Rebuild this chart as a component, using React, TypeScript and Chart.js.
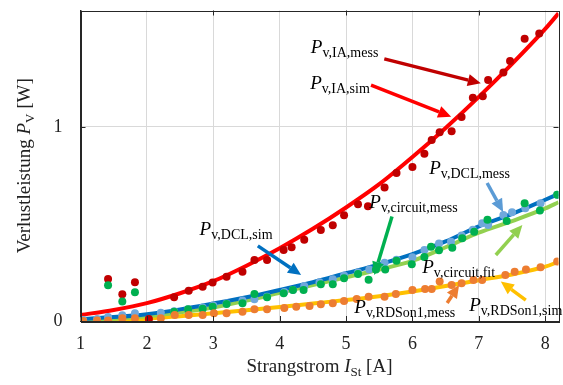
import { useEffect, useRef } from "react";
import { Chart, registerables } from "chart.js";

Chart.register(...registerables);

const X_MIN = 1;
const X_MAX = 8.2;
const Y_MIN = 0;
const Y_MAX = 1.6;
const xTickStep = 1;
const yTickStep = 1;

// P_v,IA,mess (dark red dots)
const iaMessX = [1.415, 1.63, 1.82, 2.03, 2.41, 2.63, 2.84, 2.99, 3.2, 3.44, 3.62, 3.81, 4.06, 4.18, 4.37, 4.62, 4.8, 4.97, 5.18, 5.33, 5.58, 5.76, 6.0, 6.18, 6.29, 6.41, 6.59, 6.74, 6.91, 7.06, 7.14, 7.37, 7.47, 7.69, 7.91];
const iaMessY = [0.216, 0.138, 0.2, 0.01, 0.122, 0.156, 0.177, 0.199, 0.228, 0.254, 0.314, 0.314, 0.366, 0.38, 0.419, 0.469, 0.493, 0.545, 0.602, 0.591, 0.688, 0.763, 0.793, 0.862, 0.933, 0.973, 0.978, 1.051, 1.151, 1.158, 1.242, 1.28, 1.34, 1.455, 1.481];

// P_v,circuit,mess (green dots)
const circuitMessX = [1.415, 1.63, 1.82, 2.41, 2.62, 2.84, 2.99, 3.2, 3.44, 3.62, 3.81, 4.06, 4.2, 4.36, 4.62, 4.8, 4.97, 5.18, 5.34, 5.45, 5.59, 5.76, 5.99, 6.18, 6.28, 6.4, 6.6, 6.75, 6.93, 7.13, 7.42, 7.69, 7.92, 8.18];
const circuitMessY = [0.184, 0.1, 0.148, 0.048, 0.06, 0.063, 0.074, 0.088, 0.091, 0.139, 0.122, 0.143, 0.16, 0.16, 0.19, 0.19, 0.22, 0.242, 0.213, 0.266, 0.266, 0.31, 0.292, 0.33, 0.383, 0.364, 0.378, 0.426, 0.46, 0.522, 0.515, 0.607, 0.569, 0.65];

// P_v,DCL,mess (light blue dots)
const dclMessX = [1.04, 1.25, 1.415, 1.63, 1.82, 2.21, 2.41, 2.62, 2.84, 3.0, 3.2, 3.44, 3.62, 3.81, 4.07, 4.2, 4.37, 4.6, 4.8, 4.97, 5.18, 5.35, 5.58, 5.76, 6.0, 6.18, 6.4, 6.58, 6.74, 6.91, 7.05, 7.14, 7.37, 7.5, 7.7, 7.93, 8.18];
const dclMessY = [0.005, 0.01, 0.02, 0.03, 0.04, 0.043, 0.05, 0.06, 0.07, 0.08, 0.09, 0.105, 0.112, 0.125, 0.15, 0.16, 0.18, 0.2, 0.215, 0.235, 0.25, 0.266, 0.3, 0.315, 0.328, 0.366, 0.4, 0.409, 0.44, 0.47, 0.504, 0.495, 0.546, 0.56, 0.581, 0.607, 0.65];

// P_v,RDSon1,mess (orange dots)
const rdsMessX = [1.04, 1.25, 1.415, 1.63, 1.82, 2.21, 2.42, 2.63, 2.84, 3.01, 3.2, 3.44, 3.62, 3.81, 4.07, 4.25, 4.45, 4.62, 4.8, 4.97, 5.16, 5.34, 5.58, 5.75, 6.0, 6.19, 6.29, 6.41, 6.59, 6.74, 6.92, 7.05, 7.4, 7.54, 7.71, 7.93, 8.18];
const rdsMessY = [0.0, 0.003, 0.003, 0.014, 0.014, 0.014, 0.031, 0.031, 0.031, 0.04, 0.04, 0.048, 0.06, 0.06, 0.067, 0.074, 0.077, 0.086, 0.091, 0.103, 0.113, 0.125, 0.125, 0.139, 0.16, 0.165, 0.165, 0.203, 0.186, 0.194, 0.211, 0.211, 0.237, 0.254, 0.266, 0.277, 0.306];

// simulated / fitted curves
const simX = [1, 1.5, 2, 2.5, 3, 3.5, 4, 4.5, 5, 5.5, 6, 6.5, 7, 7.5, 8, 8.2];
const iaSimY = [0.031, 0.057, 0.092, 0.143, 0.205, 0.285, 0.375, 0.475, 0.585, 0.705, 0.845, 0.995, 1.155, 1.325, 1.505, 1.585];
const dclSimY = [0.01, 0.02, 0.035, 0.06, 0.09, 0.122, 0.16, 0.2, 0.246, 0.292, 0.345, 0.41, 0.488, 0.552, 0.625, 0.655];
const circuitFitY = [0.005, 0.012, 0.025, 0.045, 0.07, 0.105, 0.145, 0.185, 0.225, 0.265, 0.31, 0.38, 0.455, 0.515, 0.58, 0.612];
const rdsSimY = [0.0, 0.005, 0.012, 0.025, 0.04, 0.055, 0.072, 0.09, 0.108, 0.128, 0.152, 0.18, 0.21, 0.24, 0.28, 0.305];

const SERIF = "'Liberation Serif', 'Times New Roman', serif";

type Annot = {
  sub: string;
  tx: number;
  ty: number;
  ax1: number; ay1: number; ax2: number; ay2: number;
  color: string;
};

const annotations: Annot[] = [
  { sub: "v,IA,mess", tx: 4.47, ty: 1.381, ax1: 5.576, ay1: 1.351, ax2: 7.03, ay2: 1.225, color: "#C00000" },
  { sub: "v,IA,sim", tx: 4.459, ty: 1.196, ax1: 5.376, ay1: 1.216, ax2: 6.583, ay2: 1.053, color: "#FF0000" },
  { sub: "v,DCL,mess", tx: 6.253, ty: 0.758, ax1: 7.125, ay1: 0.711, ax2: 7.366, ay2: 0.562, color: "#5B9BD5" },
  { sub: "v,DCL,sim", tx: 2.794, ty: 0.443, ax1: 3.671, ay1: 0.387, ax2: 4.323, ay2: 0.237, color: "#0070C0" },
  { sub: "v,circuit,mess", tx: 5.35, ty: 0.582, ax1: 5.692, ay1: 0.538, ax2: 5.426, ay2: 0.237, color: "#00B050" },
  { sub: "v,circuit,fit", tx: 6.147, ty: 0.247, ax1: 7.256, ay1: 0.34, ax2: 7.656, ay2: 0.495, color: "#92D050" },
  { sub: "v,RDSon1,mess", tx: 5.125, ty: 0.041, ax1: 6.523, ay1: 0.093, ax2: 6.703, ay2: 0.186, color: "#ED7D31" },
  { sub: "v,RDSon1,sim", tx: 6.854, ty: 0.052, ax1: 7.707, ay1: 0.108, ax2: 7.331, ay2: 0.203, color: "#FFC000" },
];

function drawArrow(ctx: CanvasRenderingContext2D, x1: number, y1: number, x2: number, y2: number, color: string) {
  const ang = Math.atan2(y2 - y1, x2 - x1);
  const headLen = 13;
  const headW = 6;
  const bx = x2 - headLen * Math.cos(ang);
  const by = y2 - headLen * Math.sin(ang);
  ctx.save();
  ctx.strokeStyle = color;
  ctx.fillStyle = color;
  ctx.lineWidth = 3.5;
  ctx.beginPath();
  ctx.moveTo(x1, y1);
  ctx.lineTo(bx, by);
  ctx.stroke();
  ctx.beginPath();
  ctx.moveTo(x2, y2);
  ctx.lineTo(bx + headW * Math.sin(ang), by - headW * Math.cos(ang));
  ctx.lineTo(bx - headW * Math.sin(ang), by + headW * Math.cos(ang));
  ctx.closePath();
  ctx.fill();
  ctx.restore();
}

type Part = { t: string; font: string; dy: number };

function drawParts(ctx: CanvasRenderingContext2D, parts: Part[], x: number, y: number, align: "left" | "center") {
  let total = 0;
  for (const p of parts) {
    ctx.font = p.font;
    total += ctx.measureText(p.t).width;
  }
  let cx = align === "center" ? x - total / 2 : x;
  ctx.textAlign = "left";
  ctx.textBaseline = "alphabetic";
  for (const p of parts) {
    ctx.font = p.font;
    ctx.fillText(p.t, cx, y + p.dy);
    cx += ctx.measureText(p.t).width;
  }
}

const overlayPlugin = {
  id: "overlay",
  afterDatasetsDraw(chart: any) {
    const ctx: CanvasRenderingContext2D = chart.ctx;
    const xs = chart.scales.x;
    const ys = chart.scales.y;
    const area = chart.chartArea;
    ctx.save();
    ctx.strokeStyle = "#262626";
    ctx.lineWidth = 1;
    ctx.strokeRect(Math.round(area.left) + 0.5, Math.round(area.top) + 0.5, Math.round(area.right - area.left), Math.round(area.bottom - area.top));
    ctx.beginPath();
    for (let v = X_MIN; v <= 8; v += xTickStep) {
      const px = Math.round(xs.getPixelForValue(v)) + 0.5;
      ctx.moveTo(px, area.bottom);
      ctx.lineTo(px, area.bottom - 5);
      if (v % 2 === 1) {
        ctx.moveTo(px, area.top);
        ctx.lineTo(px, area.top + 5);
      }
    }
    const py1 = Math.round(ys.getPixelForValue(1)) + 0.5;
    ctx.moveTo(area.left, py1);
    ctx.lineTo(area.left + 5, py1);
    ctx.moveTo(area.right, py1);
    ctx.lineTo(area.right - 5, py1);
    ctx.stroke();

    ctx.fillStyle = "#000";
    for (const a of annotations) {
      const tx = xs.getPixelForValue(a.tx);
      const ty = ys.getPixelForValue(a.ty);
      drawParts(ctx, [
        { t: "P", font: `italic 19px ${SERIF}`, dy: 0 },
        { t: a.sub, font: `14px ${SERIF}`, dy: 4 },
      ], tx, ty, "left");
      drawArrow(ctx, xs.getPixelForValue(a.ax1), ys.getPixelForValue(a.ay1), xs.getPixelForValue(a.ax2), ys.getPixelForValue(a.ay2), a.color);
    }

    ctx.fillStyle = "#222";
    const cxm = (area.left + area.right) / 2;
    drawParts(ctx, [
      { t: "Strangstrom ", font: `19px ${SERIF}`, dy: 0 },
      { t: "I", font: `italic 19px ${SERIF}`, dy: 0 },
      { t: "St", font: `13px ${SERIF}`, dy: 4 },
      { t: " [A]", font: `19px ${SERIF}`, dy: 0 },
    ], cxm, 372, "center");

    ctx.save();
    ctx.translate(30, (area.top + area.bottom) / 2);
    ctx.rotate(-Math.PI / 2);
    drawParts(ctx, [
      { t: "Verlustleistung ", font: `19px ${SERIF}`, dy: 0 },
      { t: "P", font: `italic 19px ${SERIF}`, dy: 0 },
      { t: "V", font: `13px ${SERIF}`, dy: 4 },
      { t: " [W]", font: `19px ${SERIF}`, dy: 0 },
    ], 0, 0, "center");
    ctx.restore();

    ctx.restore();
  },
};

function pts(xs: number[], ys: number[]) {
  return xs.map((x, i) => ({ x, y: ys[i] }));
}

export default function App() {
  const canvasRef = useRef<HTMLCanvasElement | null>(null);

  useEffect(() => {
    if (!canvasRef.current) return;
    const dot = (label: string, xs: number[], ys: number[], color: string, order: number) => ({
      label,
      data: pts(xs, ys),
      showLine: false,
      pointRadius: 4,
      pointBackgroundColor: color,
      pointBorderWidth: 0,
      borderColor: color,
      backgroundColor: color,
      order,
    });
    const line = (label: string, ys: number[], color: string, order: number) => ({
      label,
      data: pts(simX, ys),
      showLine: true,
      pointRadius: 0,
      borderColor: color,
      backgroundColor: color,
      borderWidth: 4,
      tension: 0.4,
      cubicInterpolationMode: "monotone",
      fill: false,
      order,
    });

    const chart = new Chart(canvasRef.current, {
      type: "scatter",
      data: {
        datasets: [
          dot("P_v,RDSon1,mess", rdsMessX, rdsMessY, "#ED7D31", 0),
          dot("P_v,circuit,mess", circuitMessX, circuitMessY, "#00B050", 1),
          dot("P_v,DCL,mess", dclMessX, dclMessY, "#6FA8DC", 2),
          dot("P_v,IA,mess", iaMessX, iaMessY, "#C00000", 3),
          line("P_v,IA,sim", iaSimY, "#FF0000", 4),
          line("P_v,DCL,sim", dclSimY, "#0070C0", 5),
          line("P_v,circuit,fit", circuitFitY, "#92D050", 6),
          line("P_v,RDSon1,sim", rdsSimY, "#FFC000", 7),
        ] as any,
      },
      options: {
        animation: false,
        responsive: true,
        maintainAspectRatio: false,
        layout: { padding: { top: 10.5, right: 4.5, left: 0, bottom: 0 } },
        plugins: { legend: { display: false }, tooltip: { enabled: false } },
        scales: {
          x: {
            type: "linear",
            min: X_MIN,
            max: X_MAX,
            ticks: {
              stepSize: xTickStep,
              includeBounds: false,
              padding: 12,
              font: { family: SERIF, size: 18 },
              color: "#222",
              maxRotation: 0,
            },
            grid: { color: "#D9D9D9", lineWidth: 1, drawTicks: false },
            border: { display: true, color: "#262626" },
            afterFit: (s: any) => { s.height = 64; s.paddingLeft = 0; s.paddingRight = 0; },
          },
          y: {
            type: "linear",
            min: Y_MIN,
            max: Y_MAX,
            ticks: {
              stepSize: yTickStep,
              includeBounds: false,
              padding: 18,
              font: { family: SERIF, size: 18 },
              color: "#222",
            },
            grid: { color: "#D9D9D9", lineWidth: 1, drawTicks: false },
            border: { display: true, color: "#262626" },
            afterFit: (s: any) => { s.width = 80.5; s.paddingTop = 0; s.paddingBottom = 0; },
          },
        },
      } as any,
      plugins: [overlayPlugin],
    });
    return () => chart.destroy();
  }, []);

  return (
    <div style={{ position: "fixed", left: 0, top: 0, width: 563, height: 385, background: "#fff" }}>
      <canvas ref={canvasRef} />
    </div>
  );
}
